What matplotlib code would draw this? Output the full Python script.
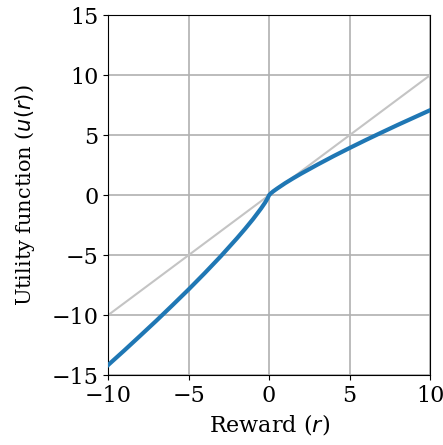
import matplotlib.pyplot as plt

plt.rcParams['font.family'] = 'DejaVu Serif'

# values
reward = [-10, -9, -8, -7, -6, -5, -4, -3, -2, -1.5, -1, -0.5, -0.25, -0.1, 0,
          0.1, 0.25, 0.5, 1, 1.5, 2, 3, 4, 5, 6, 7, 8, 9, 10]
utility = [-14.16, -12.95, -11.71, -10.46, -9.17, -7.86, -6.50, -5.09, -3.60, -2.82, -2.0, -1.11, -0.62, -0.28, 0,
           0.14, 0.31, 0.55, 1.0, 1.41, 1.80, 2.54, 3.25, 3.93, 4.59, 5.23, 5.86, 6.47, 7.08]
diag = [-10, 10]

fig = plt.figure(figsize=(4.43, 4.45), dpi=100)
ax = fig.add_axes([0.244, 0.157, 0.727, 0.809])

ax.plot(diag, diag, color='#c4c4c4', lw=1.5, zorder=2)
ax.plot(reward, utility, color='#1f77b4', lw=3, zorder=3)

ax.set_xlim(-10, 10)
ax.set_ylim(-15, 15)
ax.set_xticks([-10, -5, 0, 5, 10])
ax.set_yticks([-15, -10, -5, 0, 5, 10, 15])
ax.grid(True, color='#b0b0b0', lw=1.2)
ax.set_axisbelow(True)
ax.tick_params(labelsize=16)
ax.set_xlabel('Reward ($r$)', fontsize=16)
ax.set_ylabel('Utility function ($u(r)$)', fontsize=15, labelpad=10)

plt.savefig('out.png', dpi=100)
